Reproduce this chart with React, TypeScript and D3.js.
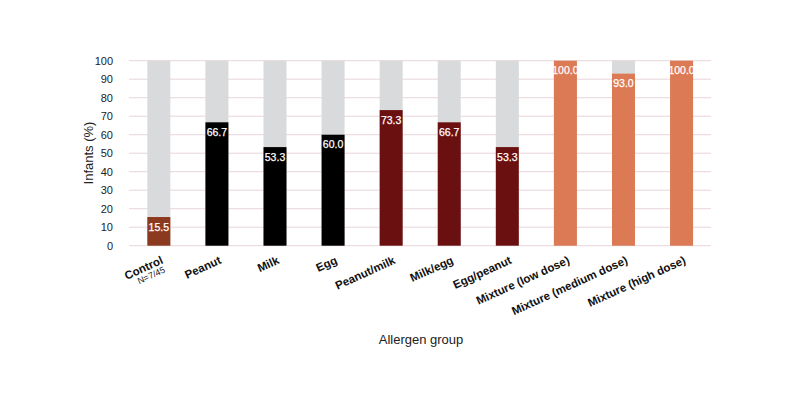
import React from "react";
import * as d3 from "d3";

const categories = ["Control", "Peanut", "Milk", "Egg", "Peanut/milk", "Milk/egg", "Egg/peanut", "Mixture (low dose)", "Mixture (medium dose)", "Mixture (high dose)"];
const values = [15.5, 66.7, 53.3, 60.0, 73.3, 66.7, 53.3, 100.0, 93.0, 100.0];
const colors = ["#8c3a1f", "#000000", "#000000", "#000000", "#6b1011", "#6b1011", "#6b1011", "#dc7a55", "#dc7a55", "#dc7a55"];
const yTicks = [0, 10, 20, 30, 40, 50, 60, 70, 80, 90, 100];
const subLabel = "N=7/45";

export default function App() {
  const W = 800, H = 410;
  const x = d3.scaleBand<string>().domain(categories).range([129.8, 710.6]).paddingInner(0.604).paddingOuter(0.302);
  const y = d3.scaleLinear().domain([0, 100]).range([245.7, 60.7]);
  const font = "'Liberation Sans', Arial, sans-serif";
  return (
    <svg width={W} height={H} style={{ position: "absolute", left: 0, top: 0 }} fontFamily={font}>
      <rect width={W} height={H} fill="#fff" />
      {yTicks.map((t) => (
        <g key={t}>
          <line x1={129} x2={711} y1={y(t)} y2={y(t)} stroke="#e8d6da" strokeWidth={1} />
          <text x={113} y={y(t) + 4} textAnchor="end" fontSize={11} fill="#222">{t}</text>
        </g>
      ))}
      {categories.map((c, i) => {
        const bx = x(c)!;
        const bw = x.bandwidth();
        const cx = bx + bw / 2;
        return (
          <g key={c}>
            <rect x={bx} y={y(100)} width={bw} height={y(0) - y(100)} fill="#d9dadb" />
            <rect x={bx} y={y(values[i])} width={bw} height={y(0) - y(values[i])} fill={colors[i]} />
            <text x={cx} y={y(values[i]) + 13.5} textAnchor="middle" fontSize={10.5} fill="#fff" stroke="#fff" strokeWidth={0.25}>{values[i].toFixed(1)}</text>
            <text transform={`translate(${cx + 5},${263}) rotate(-24.5)`} textAnchor="end" fontSize={11.5} fontWeight="bold" fill="#111">{c}</text>
            {i === 0 && (
              <text transform={`translate(${cx + 7},${272}) rotate(-24.5)`} textAnchor="end" fontSize={9} fill="#222">{subLabel}</text>
            )}
          </g>
        );
      })}
      <text transform={`translate(93,${153}) rotate(-90)`} textAnchor="middle" fontSize={13} fill="#222">Infants (%)</text>
      <text x={421} y={344} textAnchor="middle" fontSize={13} fill="#222">Allergen group</text>
    </svg>
  );
}
